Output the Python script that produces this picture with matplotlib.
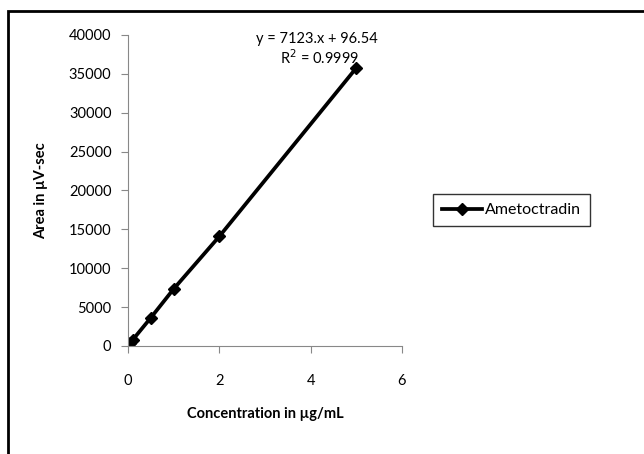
import matplotlib.pyplot as plt
from matplotlib.patches import Rectangle

# dados
conc = [0.05, 0.1, 0.5, 1, 2, 5]
area = [420, 790, 3650, 7350, 14100, 35750]
serie = "Ametoctradin"
equacao = "y = 7123.x + 96.54"
r2 = "R$^2$ = 0.9999"

plt.rcParams['font.family'] = ['Lato', 'DejaVu Sans']

fig = plt.figure(figsize=(6.44, 4.54), dpi=100)
ax = fig.add_axes([0.199, 0.238, 0.425, 0.685])

ax.plot(conc, area, color='black', lw=2.7, marker='D', ms=6.5,
        label=serie)

ax.set_xlim(0, 6)
ax.set_ylim(0, 40000)
ax.set_xticks([0, 2, 4, 6])
ax.set_yticks(range(0, 40001, 5000))
ax.tick_params(labelsize=10.5, color='#888888', length=5)
ax.tick_params(axis='y', pad=7)
ax.tick_params(axis='x', pad=15)

for s in ['top', 'right']:
    ax.spines[s].set_visible(False)
for s in ['left', 'bottom']:
    ax.spines[s].set_color('#888888')

ax.set_xlabel("Concentration in µg/mL", fontsize=10.5, fontweight='bold', labelpad=14)
ax.set_ylabel("Area in µV-sec", fontsize=10.5, fontweight='bold', labelpad=15)

fig.text(0.492, 0.914, equacao, ha='center', va='center', fontsize=10.5)
fig.text(0.496, 0.872, r2, ha='center', va='center', fontsize=10.5)

leg = fig.legend(loc='center', bbox_to_anchor=(0.794, 0.537), fontsize=11.5,
                 frameon=True, fancybox=False, handlelength=2.5,
                 handletextpad=0.2, borderpad=0.55, borderaxespad=0)
leg.get_frame().set_edgecolor('black')
leg.get_frame().set_linewidth(1.0)

# moldura externa (cortada à direita e embaixo)
fig.patches.append(Rectangle((8 / 644, -0.05), 1.1, 1 - 11 / 454 + 0.05,
                             transform=fig.transFigure, fill=False,
                             edgecolor='black', lw=2.0))

fig.savefig('out.png', dpi=100)
